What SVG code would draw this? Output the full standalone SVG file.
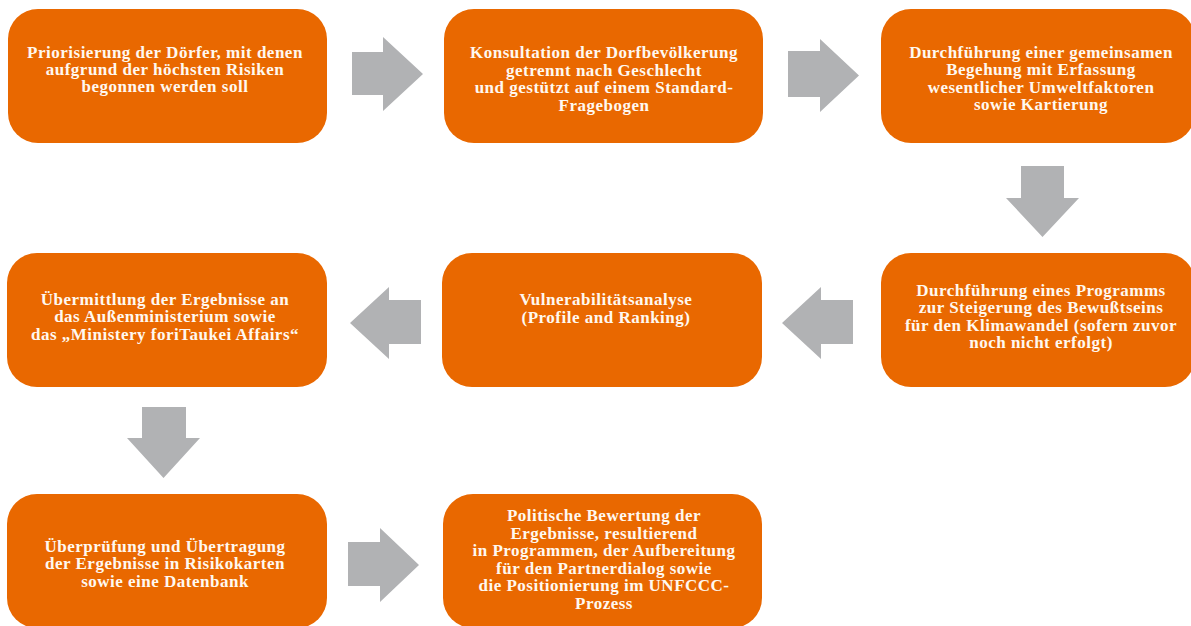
<svg xmlns="http://www.w3.org/2000/svg" width="1191" height="626" viewBox="0 0 1191 626">
<style>
.box{fill:#E96800}
.t{font-family:"Liberation Serif","Times New Roman",serif;font-weight:bold;font-size:17px;letter-spacing:0.5px;fill:#FFF8F0;text-anchor:middle}
.arr{fill:#B1B2B4}
</style>
<rect width="1191" height="626" fill="#FFFFFF"/>
<g id="connectors">
<polygon class="arr" points="352,52 383,52 383,37 423,74 383,111 383,95 352,95"/>
<polygon class="arr" points="788,51 820,51 820,39 859,75.5 820,112 820,97 788,97"/>
<polygon class="arr" points="1021,166 1064,166 1064,198 1079,198 1042.5,237 1006,198 1021,198"/>
<polygon class="arr" points="853,300 821,300 821,287 782,323 821,359 821,344 853,344"/>
<polygon class="arr" points="421,300 389,300 389,287 350,323 389,359 389,344 421,344"/>
<polygon class="arr" points="142,407 186,407 186,438 200,438 163.5,478 127,438 142,438"/>
<polygon class="arr" points="348,542 380,542 380,528 419,565 380,602 380,586 348,586"/>
</g>
<g id="n1">
<rect class="box" x="8" y="9" width="319" height="134" rx="30"/>
<text class="t"><tspan x="165" y="58">Priorisierung der Dörfer, mit denen</tspan><tspan x="165" y="75">aufgrund der höchsten Risiken</tspan><tspan x="165" y="92">begonnen werden soll</tspan></text>
</g>
<g id="n2">
<rect class="box" x="444" y="9" width="319" height="134" rx="30"/>
<text class="t"><tspan x="604" y="58">Konsultation der Dorfbevölkerung</tspan><tspan x="604" y="75.5">getrennt nach Geschlecht</tspan><tspan x="604" y="93">und gestützt auf einem Standard-</tspan><tspan x="604" y="110.5">Fragebogen</tspan></text>
</g>
<g id="n3">
<rect class="box" x="881" y="9" width="314" height="134" rx="30"/>
<text class="t"><tspan x="1041" y="57.5">Durchführung einer gemeinsamen</tspan><tspan x="1041" y="75">Begehung mit Erfassung</tspan><tspan x="1041" y="92.5">wesentlicher Umweltfaktoren</tspan><tspan x="1041" y="110">sowie Kartierung</tspan></text>
</g>
<g id="n4">
<rect class="box" x="881" y="253" width="314" height="134" rx="30"/>
<text class="t"><tspan x="1041" y="295.5">Durchführung eines Programms</tspan><tspan x="1041" y="313">zur Steigerung des Bewußtseins</tspan><tspan x="1041" y="330.5">für den Klimawandel (sofern zuvor</tspan><tspan x="1041" y="348">noch nicht erfolgt)</tspan></text>
</g>
<g id="n5">
<rect class="box" x="442" y="253" width="320" height="134" rx="30"/>
<text class="t"><tspan x="606" y="305">Vulnerabilitätsanalyse</tspan><tspan x="606" y="323">(Profile and Ranking)</tspan></text>
</g>
<g id="n6">
<rect class="box" x="7" y="253" width="320" height="134" rx="30"/>
<text class="t"><tspan x="165" y="304.5">Übermittlung der Ergebnisse an</tspan><tspan x="165" y="322">das Außenministerium sowie</tspan><tspan x="165" y="339.5">das „Ministery foriTaukei Affairs“</tspan></text>
</g>
<g id="n7">
<rect class="box" x="7" y="494" width="320" height="134" rx="30"/>
<text class="t"><tspan x="165" y="552">Überprüfung und Übertragung</tspan><tspan x="165" y="569">der Ergebnisse in Risikokarten</tspan><tspan x="165" y="586.5">sowie eine Datenbank</tspan></text>
</g>
<g id="n8">
<rect class="box" x="443" y="494" width="319" height="134" rx="30"/>
<text class="t"><tspan x="604" y="521">Politische Bewertung der</tspan><tspan x="604" y="538.5">Ergebnisse, resultierend</tspan><tspan x="604" y="556">in Programmen, der Aufbereitung</tspan><tspan x="604" y="573.5">für den Partnerdialog sowie</tspan><tspan x="604" y="591">die Positionierung im UNFCCC-</tspan><tspan x="604" y="608.5">Prozess</tspan></text>
</g>
</svg>
